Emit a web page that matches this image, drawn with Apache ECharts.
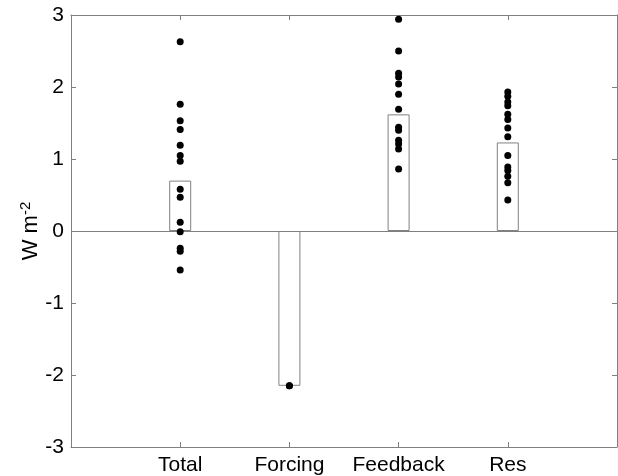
<!DOCTYPE html>
<html>
<head>
<meta charset="utf-8">
<script src="https://cdn.jsdelivr.net/npm/echarts@6/dist/echarts.min.js"></script>
<style>html,body{margin:0;padding:0;background:#fff}#c{width:618px;height:476px}</style>
</head>
<body>
<div id="c"></div>
<script>
const categories = ['Total', 'Forcing', 'Feedback', 'Res'];
const barValues = [0.70, -2.15, 1.62, 1.23];
const totalPoints = [2.63, 1.76, 1.53, 1.41, 1.19, 1.05, 0.97, 0.58, 0.47, 0.12, -0.01, -0.24, -0.28, -0.54];
const forcingPoints = [-2.15, -2.15];
const feedbackPoints = [2.94, 2.50, 2.19, 2.14, 2.04, 1.90, 1.69, 1.44, 1.40, 1.26, 1.21, 1.14, 0.86];
const resPoints = [1.93, 1.87, 1.79, 1.74, 1.62, 1.55, 1.43, 1.31, 1.05, 0.89, 0.84, 0.76, 0.67, 0.43];
const yTicks = [-3, -2, -1, 0, 1, 2, 3];

const pointGroups = [totalPoints, forcingPoints, feedbackPoints, resPoints];
const scatterData = [];
pointGroups.forEach((g, i) => g.forEach(v => scatterData.push([i + 1, v])));
const barData = barValues.map((v, i) => [i + 1, v]);
const catPos = categories.map((c, i) => i + 1);

const axisGrey = '#808080';
const font = 'Liberation Sans, Arial, Helvetica, sans-serif';

const chart = echarts.init(document.getElementById('c'), null, {renderer: 'canvas'});
chart.setOption({
  animation: false,
  backgroundColor: '#fff',
  grid: {left: 71, right: 1, top: 15, bottom: 29, containLabel: false},
  xAxis: [{
    type: 'value', min: 0, max: 5, interval: 1, position: 'bottom',
    splitLine: {show: false},
    axisLine: {show: true, onZero: false, lineStyle: {color: axisGrey, width: 1}},
    axisTick: {show: true, inside: true, length: 5, customValues: catPos, lineStyle: {color: axisGrey}},
    axisLabel: {show: true, customValues: catPos, margin: 8, color: '#000', fontSize: 21, fontFamily: font,
      formatter: v => categories[Math.round(v) - 1] || ''}
  }, {
    type: 'value', min: 0, max: 5, interval: 1, position: 'top',
    splitLine: {show: false},
    axisLine: {show: true, onZero: false, lineStyle: {color: axisGrey, width: 1}},
    axisTick: {show: true, inside: true, length: 5, customValues: catPos, lineStyle: {color: axisGrey}},
    axisLabel: {show: false}
  }],
  yAxis: [{
    type: 'value', min: -3, max: 3, interval: 1, position: 'left',
    splitLine: {show: false},
    axisLine: {show: true, onZero: false, lineStyle: {color: axisGrey, width: 1}},
    axisTick: {show: true, inside: true, length: 5, lineStyle: {color: axisGrey}},
    axisLabel: {show: true, margin: 7, color: '#000', fontSize: 21, fontFamily: font,
      customValues: yTicks, formatter: v => String(v)},
    name: '{a|W m}{b|-2}', nameLocation: 'middle', nameGap: 27, nameRotate: 90,
    nameMoveOverlap: false,
    nameTextStyle: {rich: {
      a: {fontSize: 22, fontFamily: font, color: '#000'},
      b: {fontSize: 15, fontFamily: font, color: '#000', verticalAlign: 'top', padding: [0, 0, 11, 0]}
    }}
  }, {
    type: 'value', min: -3, max: 3, interval: 1, position: 'right',
    splitLine: {show: false},
    axisLine: {show: true, onZero: false, lineStyle: {color: axisGrey, width: 1}},
    axisTick: {show: true, inside: true, length: 5, lineStyle: {color: axisGrey}},
    axisLabel: {show: false}
  }],
  series: [{
    type: 'bar', xAxisIndex: 0, yAxisIndex: 0, barWidth: 22,
    data: barData,
    itemStyle: {color: '#fff', borderColor: axisGrey, borderWidth: 1},
    markLine: {silent: true, symbol: 'none', label: {show: false},
      lineStyle: {color: axisGrey, width: 1, type: 'solid'},
      data: [{yAxis: 0}]}
  }, {
    type: 'scatter', xAxisIndex: 0, yAxisIndex: 0, symbol: 'circle', symbolSize: 7,
    data: scatterData,
    itemStyle: {color: '#000', opacity: 1},
    z: 5
  }]
});
</script>
</body>
</html>
